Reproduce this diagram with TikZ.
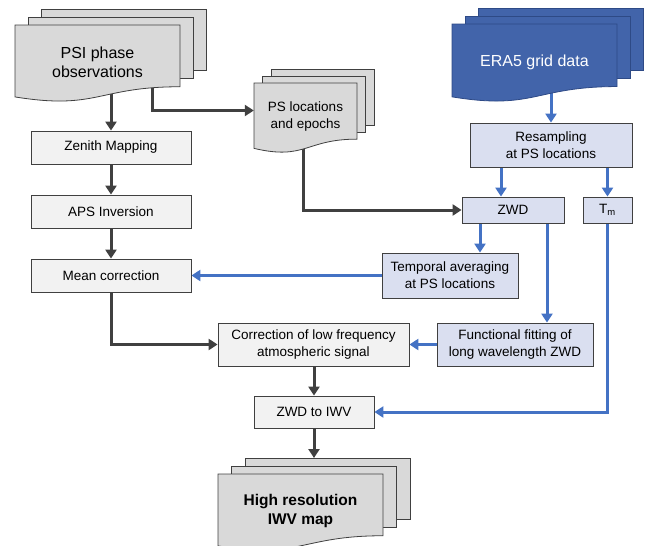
\documentclass[tikz,border=0pt]{standalone}
\usepackage{fontspec}
\setmainfont{Liberation Sans}
\usepackage{tikz}
\usetikzlibrary{arrows.meta,positioning,calc}
\definecolor{docgray}{HTML}{D9D9D9}
\definecolor{procgray}{HTML}{F2F2F2}
\definecolor{flowdark}{HTML}{404040}
\definecolor{flowblue}{HTML}{4472C4}
\definecolor{erafill}{HTML}{4264AA}
\definecolor{eraedge}{HTML}{2E4A86}
\definecolor{erabox}{HTML}{DADFF0}
\pgfdeclarelayer{bg}
\pgfsetlayers{bg,main}

% stacked sheets: x, y (top left of front sheet), width, height, shift x, shift y, fill, border
\newcommand{\docstack}[8]{%
    \foreach \k in {2,1} {
        \filldraw[fill=#7, draw=#8, line width=0.8pt] ({#1+\k*#5},{#2-\k*#6}) rectangle ++(#3,{0.802*#4});
    }
    \filldraw[fill=#7, draw=#8, line width=0.8pt] (#1,#2) -- ++(#3,0) -- ++(0,{0.802*#4})
        .. controls ({#1+0.5*#3},{#2+0.802*#4}) and ({#1+0.5*#3},{#2+1.108*#4}) .. (#1,{#2+0.934*#4}) -- cycle;
}

\begin{document}
\begin{tikzpicture}[x=1pt, y=-1pt,
    procbox/.style={draw=flowdark, fill=procgray, line width=0.8pt, align=center,
        font=\fontsize{13.5}{16.8}\selectfont, inner sep=2pt},
    erastep/.style={procbox, fill=erabox},
    doctext/.style={align=center, font=\fontsize{16}{19}\selectfont},
    darkflow/.style={flowdark, line width=3pt, -{Triangle[width=11pt,length=9pt]}},
    blueflow/.style={flowblue, line width=3pt, -{Triangle[width=11pt,length=9pt]}}]
    \useasboundingbox (0,0) rectangle (646,546);
    \clip (0,0) rectangle (646,546);

    % input and output documents
    \docstack{15}{25}{165}{77}{13}{8}{docgray}{flowdark}
    \docstack{452}{24}{165}{78}{13}{8}{erafill}{eraedge}
    \docstack{254}{83}{103}{70}{8.5}{7}{docgray}{flowdark}
    \docstack{218}{474}{165}{77}{13.5}{8}{docgray}{flowdark}
    \node[doctext, minimum width=165pt] (psi) at (97.5,62) {PSI phase\\observations};
    \node[doctext, minimum width=165pt, white] (era) at (534.5,62) {ERA5 grid data};
    \node[doctext, minimum width=103pt, font=\fontsize{13.5}{17}\selectfont] (psloc) at (305.5,116.5) {PS locations\\and epochs};
    \node[doctext, font=\fontsize{15.5}{19}\selectfont\bfseries] (hires) at (300.5,510.5) {High resolution\\IWV map};
    \coordinate (hrtop) at (314,458);

    % PSI processing chain
    \node[procbox, minimum width=160pt, minimum height=33pt] (zen) at (111,147.5) {Zenith Mapping};
    \node[procbox, minimum width=160pt, minimum height=33pt] (aps) at (111,211.5) {APS Inversion};
    \node[procbox, minimum width=160pt, minimum height=33pt] (mean) at (111,275.5) {Mean correction};
    \node[procbox, minimum width=191pt, minimum height=43pt] (corr) at (313.5,344.5) {Correction of low frequency\\atmospheric signal};
    \node[procbox, minimum width=120pt, minimum height=32pt] (iwv) at (314,412) {ZWD to IWV};

    % ERA5 processing chain
    \node[erastep, minimum width=162pt, minimum height=44pt] (resamp) at (551,145) {Resampling\\at PS locations};
    \node[erastep, minimum width=102pt, minimum height=26pt] (zwd) at (513,210) {ZWD};
    \node[erastep, minimum width=49pt, minimum height=26pt] (tm) at (607.5,210) {T\textsubscript{m}};
    \node[erastep, minimum width=136pt, minimum height=45pt] (temp) at (450,275.5) {Temporal averaging\\at PS locations};
    \node[erastep, minimum width=156pt, minimum height=43pt] (func) at (515,344.5) {Functional fitting of\\long wavelength ZWD};

    \begin{pgfonlayer}{bg}
        % dark connectors
        \draw[darkflow] (psi.south -| zen.north) -- (zen.north);
        \draw[darkflow] ([xshift=54.5pt]psi.south) |- ([yshift=6pt]psloc.west);
        \draw[darkflow] (zen) -- (aps);
        \draw[darkflow] (aps) -- (mean);
        \draw[darkflow] (mean.south) |- (corr.west);
        \draw[darkflow] ([xshift=-2pt]psloc.south) |- (zwd.west);
        \draw[darkflow] (corr.south -| iwv.north) -- (iwv.north);
        \draw[darkflow] (iwv.south) -- (hrtop);

        % blue connectors
        \draw[blueflow] (era.south -| resamp.north) -- (resamp.north);
        \draw[blueflow] ([xshift=-50pt]resamp.south) -- ([xshift=-50pt]resamp.south |- zwd.north);
        \draw[blueflow] (resamp.south -| tm.north) -- (tm.north);
        \draw[blueflow] ([xshift=-33pt]zwd.south) -- ([xshift=-33pt]zwd.south |- temp.north);
        \draw[blueflow] ([xshift=34pt]zwd.south) -- ([xshift=34pt]zwd.south |- func.north);
        \draw[blueflow] (temp) -- (mean);
        \draw[blueflow] (func) -- (corr);
        \draw[blueflow] (tm.south) |- (iwv.east);
    \end{pgfonlayer}
\end{tikzpicture}
\end{document}
